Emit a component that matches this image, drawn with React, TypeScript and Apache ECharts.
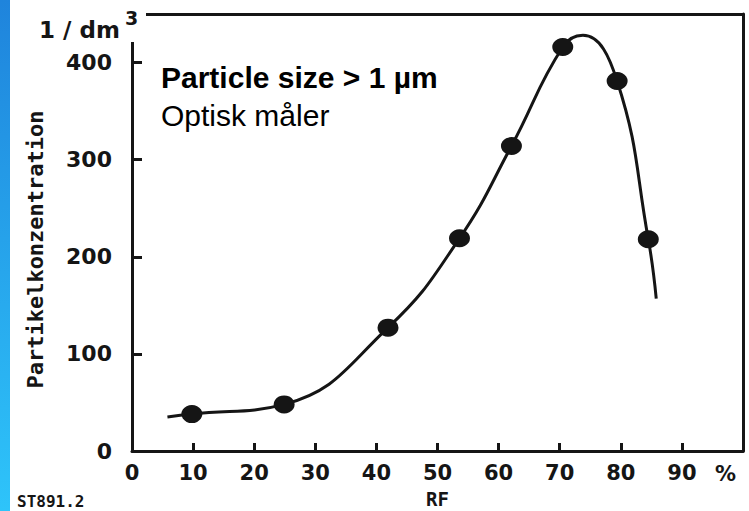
import { useEffect, useRef } from "react";
import * as echarts from "echarts";

// Measured points (RF in %, concentration in 1/dm³)
const rfDots = [9.8, 24.9, 41.9, 53.6, 62.1, 70.5, 79.4, 84.5];
const concDots = [38, 48, 127, 219, 314, 416, 381, 218];

// Hand-drawn fitted curve through the measurements
const curveRf = [5.8, 9.8, 24.9, 41.9, 53.6, 62.1, 70.5, 73.8, 79.4, 84.5, 85.8];
const curveConc = [35, 38, 48, 127, 219, 314, 416, 428, 381, 218, 157];

const xRange = [0, 100];
const yRange = [0, 450];

const INK = "#151515";
const DIGIT_FONT = "DejaVu Sans";
const MONO_FONT = "DejaVu Sans Mono";
const SANS_FONT = "Liberation Sans";

export default function App() {
  const ref = useRef<HTMLDivElement>(null);

  useEffect(() => {
    const chart = echarts.init(ref.current!, null, { renderer: "svg" });

    const frameLine = { color: INK, width: 3 };
    const digitLabel = {
      color: INK,
      fontFamily: DIGIT_FONT,
      fontWeight: "bold" as const,
      fontSize: 22,
    };

    chart.setOption({
      animation: false,
      backgroundColor: "#ffffff",
      grid: {
        left: 132,
        right: 6,
        top: 14,
        bottom: 60,
        containLabel: false,
        outerBoundsMode: "none",
      },
      xAxis: [
        {
          type: "value",
          min: xRange[0],
          max: xRange[1],
          interval: 10,
          position: "bottom",
          axisLine: { show: true, lineStyle: frameLine },
          axisTick: { show: true, inside: true, length: 8, lineStyle: frameLine },
          axisLabel: {
            ...digitLabel,
            fontSize: 21,
            lineHeight: 18,
            margin: 13,
            showMaxLabel: false,
          },
          splitLine: { show: false },
          name: "RF",
          nameLocation: "middle",
          nameMoveOverlap: false,
          nameGap: 39,
          nameTextStyle: {
            ...digitLabel,
            fontFamily: MONO_FONT,
            fontSize: 19,
            lineHeight: 17,
          },
        },
        {
          type: "value",
          min: xRange[0],
          max: xRange[1],
          position: "top",
          axisLine: { show: true, onZero: false, lineStyle: frameLine },
          axisTick: { show: false },
          axisLabel: { show: false },
          splitLine: { show: false },
        },
      ],
      yAxis: [
        {
          type: "value",
          min: yRange[0],
          max: yRange[1],
          interval: 100,
          position: "left",
          axisLine: { show: true, lineStyle: frameLine },
          axisTick: { show: true, inside: true, length: 10, lineStyle: frameLine },
          axisLabel: { ...digitLabel, margin: 20, showMaxLabel: false },
          splitLine: { show: false },
          name: "Partikelkonzentration",
          nameLocation: "middle",
          nameMoveOverlap: false,
          nameRotate: 90,
          nameGap: 86,
          nameTextStyle: {
            ...digitLabel,
            fontFamily: MONO_FONT,
            padding: [0, 34, 0, 0],
          },
        },
        {
          type: "value",
          min: yRange[0],
          max: yRange[1],
          position: "right",
          axisLine: { show: true, onZero: false, lineStyle: frameLine },
          axisTick: { show: false },
          axisLabel: { show: false },
          splitLine: { show: false },
        },
      ],
      series: [
        {
          type: "line",
          data: curveRf.map((x, i) => [x, curveConc[i]]),
          smooth: 0.45,
          showSymbol: false,
          lineStyle: { color: INK, width: 3 },
          z: 2,
        },
        {
          type: "scatter",
          data: rfDots.map((x, i) => [x, concDots[i]]),
          symbol: "circle",
          symbolSize: [21, 18],
          itemStyle: { color: INK, opacity: 1 },
          z: 3,
        },
      ],
      graphic: [
        {
          type: "rect",
          z: 50,
          shape: { x: 0, y: 0, width: 10, height: 511 },
          style: {
            fill: new echarts.graphic.LinearGradient(0, 0, 0, 1, [
              { offset: 0, color: "#1f84dc" },
              { offset: 1, color: "#2ec4fa" },
            ]),
          },
        },
        {
          // open corner of the frame behind the unit label
          type: "rect",
          z: 50,
          shape: { x: 122, y: 0, width: 24, height: 42 },
          style: { fill: "#ffffff" },
        },
        {
          type: "text",
          z: 60,
          style: {
            text: "1 / dm",
            x: 39,
            y: 30,
            fontSize: 23,
            fontFamily: DIGIT_FONT,
            fontWeight: "bold",
            fill: INK,
            verticalAlign: "middle",
          },
        },
        {
          type: "text",
          z: 60,
          style: {
            text: "3",
            x: 125,
            y: 18,
            fontSize: 19,
            fontFamily: DIGIT_FONT,
            fontWeight: "bold",
            fill: INK,
            verticalAlign: "middle",
          },
        },
        {
          type: "text",
          z: 60,
          style: {
            text: "Particle size > 1 µm",
            x: 161,
            y: 77,
            fontSize: 30,
            fontFamily: SANS_FONT,
            fontWeight: "bold",
            fill: "#000000",
            verticalAlign: "middle",
          },
        },
        {
          type: "text",
          z: 60,
          style: {
            text: "Optisk måler",
            x: 161,
            y: 115,
            fontSize: 30,
            fontFamily: SANS_FONT,
            fill: "#000000",
            verticalAlign: "middle",
          },
        },
        {
          type: "text",
          z: 60,
          style: {
            text: "%",
            x: 715,
            y: 474,
            fontSize: 21,
            fontFamily: DIGIT_FONT,
            fontWeight: "bold",
            fill: INK,
            verticalAlign: "middle",
          },
        },
        {
          type: "text",
          z: 60,
          style: {
            text: "ST891.2",
            x: 17,
            y: 501,
            fontSize: 16,
            fontFamily: MONO_FONT,
            fontWeight: "bold",
            fill: INK,
            verticalAlign: "middle",
          },
        },
      ],
    });

    return () => chart.dispose();
  }, []);

  return (
    <div
      ref={ref}
      style={{
        position: "fixed",
        left: 0,
        top: 0,
        width: 749,
        height: 511,
        background: "#ffffff",
      }}
    />
  );
}
